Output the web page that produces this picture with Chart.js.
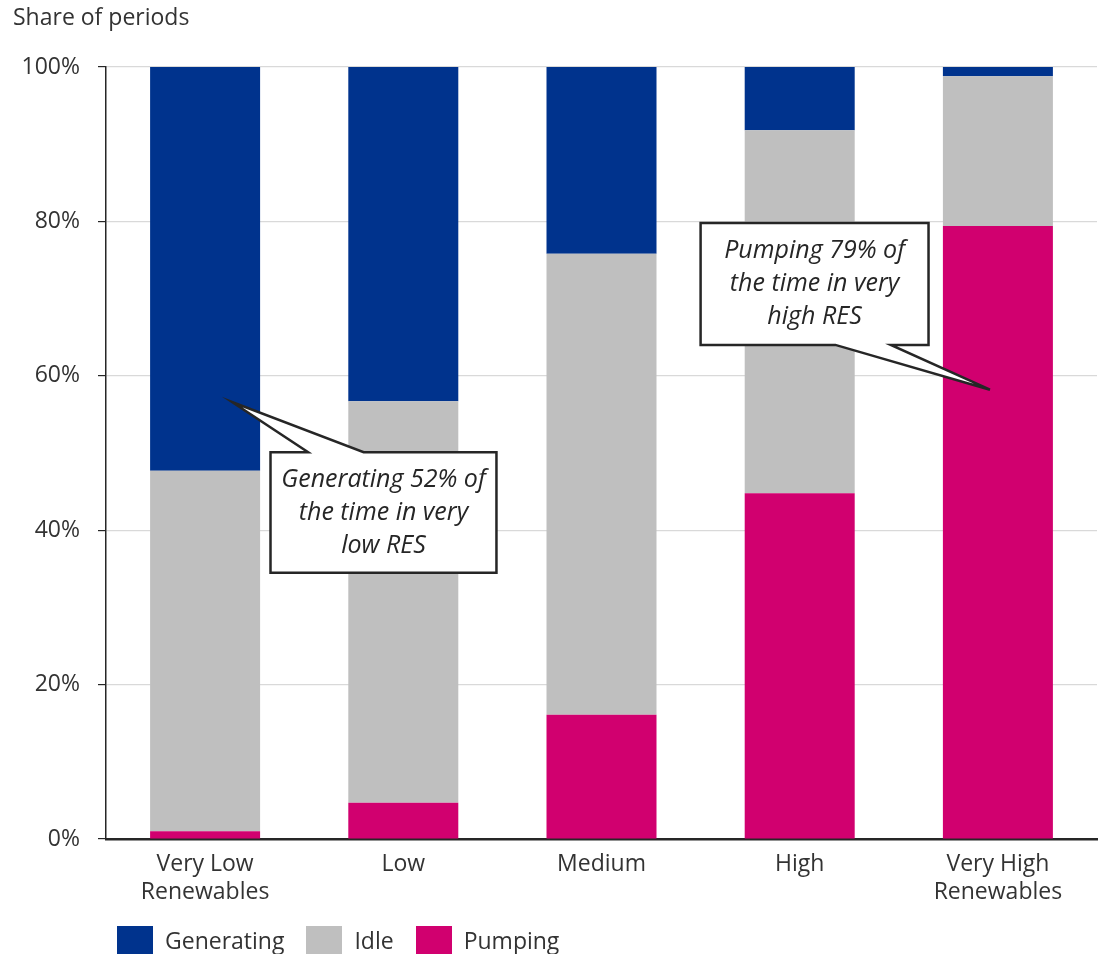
<!DOCTYPE html>
<html>
<head>
<meta charset="utf-8">
<script src="https://cdn.jsdelivr.net/npm/chart.js@4"></script>
<style>
  html, body { margin: 0; padding: 0; background: #fff; }
  .wrap { position: relative; width: 1107px; height: 954px; }
  .legend { position: absolute; left: 117px; top: 925px; display: flex; font-family: "Open Sans", sans-serif; font-size: 23px; line-height: 30px; color: #333; }
  .legend .item { display: flex; align-items: center; margin-right: 22px; }
  .legend .box { width: 36px; height: 29px; margin-right: 12px; }
</style>
</head>
<body>
<div class="wrap">
  <canvas id="chart" width="1107" height="954"></canvas>
  <div class="legend" id="legend"></div>
</div>
<script>
// Chart data
const categories = [['Very Low', 'Renewables'], 'Low', 'Medium', 'High', ['Very High', 'Renewables']];
const pumping = [1.0, 4.7, 16.1, 44.8, 79.4];
const idle = [46.7, 52.0, 59.7, 47.0, 19.4];
const generating = [52.3, 43.3, 24.2, 8.2, 1.2];
const yTickValues = [0, 20, 40, 60, 80, 100];

const colors = { Generating: '#00338D', Idle: '#BFBFBF', Pumping: '#D1006F' };
const textColor = '#333333';
const fontFamily = '"Open Sans", sans-serif';

// Callout bubbles, placed in data units (category index, percent)
const callouts = [
    { lines: ['Generating 52% of', 'the time in very', 'low RES'], left: 0.33, right: 1.47, top: 50.1, bottom: 34.5, side: 'top', tailA: 0.52, tailB: 0.80, tipX: 0.136, tipY: 56.6 },
    { lines: ['Pumping 79% of', 'the time in very', 'high RES'], left: 2.50, right: 3.65, top: 79.8, bottom: 64.0, side: 'bottom', tailA: 3.18, tailB: 3.46, tipX: 3.96, tipY: 58.2 }
];

// Plugin for the axis title and the callouts
const extras = {
    id: 'extras',
    afterDraw(chart) {
        const ctx = chart.ctx;
        const xs = chart.scales.x;
        const ys = chart.scales.y;
        ctx.save();
        ctx.fillStyle = textColor;
        ctx.font = '23px ' + fontFamily;
        ctx.textAlign = 'left';
        ctx.textBaseline = 'middle';
        ctx.fillText('Share of periods', 13, 18);

        callouts.forEach(c => {
            const l = xs.getPixelForValue(c.left);
            const r = xs.getPixelForValue(c.right);
            const t = ys.getPixelForValue(c.top);
            const b = ys.getPixelForValue(c.bottom);
            const a = xs.getPixelForValue(c.tailA);
            const bb = xs.getPixelForValue(c.tailB);
            const tx = xs.getPixelForValue(c.tipX);
            const ty = ys.getPixelForValue(c.tipY);
            ctx.beginPath();
            ctx.moveTo(l, t);
            if (c.side === 'top') {
                ctx.lineTo(a, t);
                ctx.lineTo(tx, ty);
                ctx.lineTo(bb, t);
            }
            ctx.lineTo(r, t);
            ctx.lineTo(r, b);
            if (c.side === 'bottom') {
                ctx.lineTo(bb, b);
                ctx.lineTo(tx, ty);
                ctx.lineTo(a, b);
            }
            ctx.lineTo(l, b);
            ctx.closePath();
            ctx.fillStyle = '#ffffff';
            ctx.fill();
            ctx.lineWidth = 2.5;
            ctx.lineJoin = 'miter';
            ctx.strokeStyle = '#262626';
            ctx.stroke();

            ctx.fillStyle = '#262626';
            ctx.font = 'italic 25px ' + fontFamily;
            ctx.textAlign = 'center';
            const cx = (l + r) / 2;
            const cy = (t + b) / 2;
            const lh = 33;
            c.lines.forEach((line, i) => {
                ctx.fillText(line, cx, cy + (i - (c.lines.length - 1) / 2) * lh);
            });
        });
        ctx.restore();
    }
};

const chart = new Chart(document.getElementById('chart'), {
    type: 'bar',
    data: {
        labels: categories,
        datasets: [
            { label: 'Pumping', data: pumping, backgroundColor: colors.Pumping },
            { label: 'Idle', data: idle, backgroundColor: colors.Idle },
            { label: 'Generating', data: generating, backgroundColor: colors.Generating }
        ]
    },
    options: {
        responsive: false,
        animation: false,
        layout: { padding: { top: 67, right: 10, left: 0, bottom: 0 } },
        plugins: {
            legend: { display: false },
            tooltip: { enabled: false }
        },
        datasets: { bar: { barPercentage: 0.555, categoryPercentage: 1 } },
        scales: {
            x: {
                stacked: true,
                grid: { display: false },
                border: { display: true, color: '#262626', width: 2.5 },
                ticks: {
                    color: textColor,
                    font: { family: fontFamily, size: 23 },
                    padding: 4,
                    maxRotation: 0
                },
                afterFit(scale) { scale.height = 954 - 839; }
            },
            y: {
                stacked: true,
                min: 0,
                max: 100,
                afterBuildTicks(scale) { scale.ticks = yTickValues.map(v => ({ value: v })); },
                grid: { color: '#D9D9D9', lineWidth: 1.2, tickColor: '#262626', tickLength: 8, drawTicks: true },
                border: { display: true, color: '#262626', width: 1.5 },
                ticks: {
                    color: textColor,
                    font: { family: fontFamily, size: 23 },
                    padding: 18,
                    callback: v => v + '%'
                },
                afterFit(scale) { scale.width = 106; }
            }
        }
    },
    plugins: [extras]
});

// HTML legend
const legend = document.getElementById('legend');
['Generating', 'Idle', 'Pumping'].forEach(name => {
    const item = document.createElement('div');
    item.className = 'item';
    item.innerHTML = '<span class="box" style="background:' + colors[name] + '"></span><span>' + name + '</span>';
    legend.appendChild(item);
});
</script>
</body>
</html>
